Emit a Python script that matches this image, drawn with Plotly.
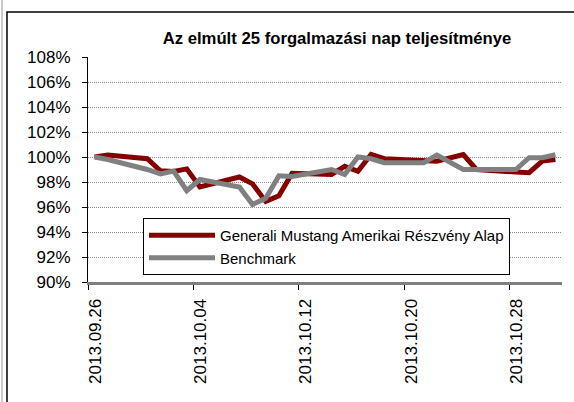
import plotly.graph_objects as go
from datetime import datetime, timedelta

dates = ["2013-09-26", "2013-09-27", "2013-09-30", "2013-10-01", "2013-10-02",
         "2013-10-03", "2013-10-04", "2013-10-07", "2013-10-08", "2013-10-09",
         "2013-10-10", "2013-10-11", "2013-10-14", "2013-10-15", "2013-10-16",
         "2013-10-17", "2013-10-18", "2013-10-21", "2013-10-22", "2013-10-24",
         "2013-10-25", "2013-10-28", "2013-10-29", "2013-10-30", "2013-10-31"]

fund = [100.0, 100.15, 99.86, 98.9, 98.85, 99.05, 97.6, 98.4, 97.85, 96.45,
        96.9, 98.7, 98.6, 99.25, 98.85, 100.2, 99.86, 99.75, 99.67, 100.2,
        99.0, 98.8, 98.75, 99.67, 99.8]

bench = [100.0, 99.8, 99.0, 98.65, 98.87, 97.3, 98.2, 97.6, 96.2, 96.7,
         98.5, 98.45, 99.0, 98.6, 100.0, 99.86, 99.55, 99.55, 100.15, 99.0,
         99.0, 99.0, 99.94, 99.94, 100.18]

tick_labels = ["2013.09.26", "2013.10.04", "2013.10.12", "2013.10.20", "2013.10.28"]

series_names = ["Generali Mustang Amerikai Részvény Alap", "Benchmark"]
title_text = "Az elmúlt 25 forgalmazási nap teljesítménye"

# points sit in the middle of each day slot
x_mid = [datetime.strptime(d, "%Y-%m-%d") + timedelta(hours=12) for d in dates]
tick_vals = [datetime.strptime(t, "%Y.%m.%d") for t in tick_labels]

FONT = "Liberation Sans, Arial, Helvetica, sans-serif"

fig = go.Figure()
fig.add_trace(go.Scatter(x=x_mid, y=fund, mode="lines", name=series_names[0],
                         line=dict(color="#850000", width=5)))
fig.add_trace(go.Scatter(x=x_mid, y=bench, mode="lines", name=series_names[1],
                         line=dict(color="#808080", width=5)))

W, H = 574, 402
L, R, T, B = 88, 12, 57, 120
pw, ph = W - L - R, H - T - B

def px(xp):
    return (xp - L) / pw

def py(yp):
    return (H - B - yp) / ph

fig.update_layout(
    template="none",
    width=W, height=H,
    margin=dict(l=L, r=R, t=T, b=B, pad=0),
    paper_bgcolor="white", plot_bgcolor="white",
    font=dict(family=FONT, color="black", size=15),
    title=dict(text="<b>" + title_text + "</b>", x=337 / W, xanchor="center",
               y=1 - 38 / H, yanchor="middle",
               font=dict(size=16.7, family=FONT, color="black")),
    showlegend=True,
    legend=dict(x=px(143), y=py(218), xanchor="left", yanchor="top",
                bgcolor="white", bordercolor="black", borderwidth=1,
                font=dict(size=15, family=FONT, color="black"), itemwidth=66,
                tracegroupgap=0),
    xaxis=dict(type="date", automargin=False,
               range=[datetime(2013, 9, 26), datetime(2013, 11, 1)],
               tickmode="array", tickvals=tick_vals, ticktext=tick_labels,
               tickangle=-90, ticks="outside", ticklen=5, tickcolor="black",
               tickwidth=1, ticklabelshift=7, ticklabelstandoff=2,
               showline=True, linecolor="#808080", linewidth=3,
               showgrid=False, zeroline=False,
               tickfont=dict(size=17, family=FONT, color="black")),
    yaxis=dict(range=[90, 108], dtick=2, tick0=90, ticksuffix="%",
               automargin=False,
               ticks="outside", ticklen=5, tickcolor="black", tickwidth=1,
               ticklabelstandoff=8,
               showline=True, linecolor="black", linewidth=1,
               showgrid=True, gridcolor="#8c8c8c", gridwidth=1,
               griddash="1px,1px",
               zeroline=False,
               tickfont=dict(size=17, family=FONT, color="black")),
    shapes=[
        dict(type="rect", xref="paper", yref="paper",
             x0=px(7), x1=px(590), y0=py(430), y1=py(12),
             line=dict(color="black", width=1.5), fillcolor="rgba(0,0,0,0)",
             layer="below"),
        dict(type="line", xref="paper", yref="paper",
             x0=px(2), x1=px(2), y0=py(410), y1=py(0),
             line=dict(color="#cccccc", width=2)),
    ],
)

fig.write_html("out.html",
               config={"displayModeBar": False},
               post_script="document.body.style.margin='0';"
                           "document.body.style.overflow='hidden';")
